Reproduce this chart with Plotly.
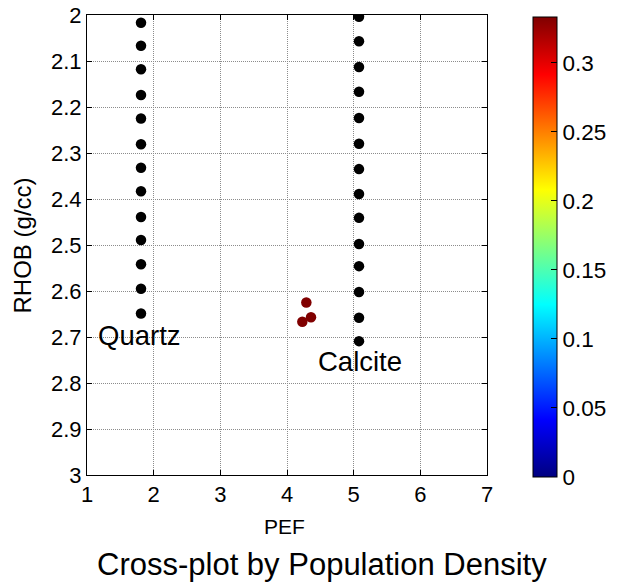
import plotly.graph_objects as go

# Data
quartz_pef = [1.81] * 13
quartz_rhob = [2.017, 2.067, 2.118, 2.174, 2.225, 2.281, 2.332, 2.383, 2.439, 2.489, 2.542, 2.595, 2.649]
calcite_pef = [5.08] * 14
calcite_rhob = [2.004, 2.057, 2.113, 2.167, 2.224, 2.280, 2.335, 2.389, 2.441, 2.498, 2.546, 2.602, 2.658, 2.709]
sample_pef = [4.29, 4.36, 4.23]
sample_rhob = [2.625, 2.657, 2.667]
sample_density = [1/3, 1/3, 1/3]

x_ticks = [1, 2, 3, 4, 5, 6, 7]
y_ticks = [2.0, 2.1, 2.2, 2.3, 2.4, 2.5, 2.6, 2.7, 2.8, 2.9, 3.0]
y_ticktext = ["2", "2.1", "2.2", "2.3", "2.4", "2.5", "2.6", "2.7", "2.8", "2.9", "3"]
cb_ticks = [0, 0.05, 0.1, 0.15, 0.2, 0.25, 0.3]
cb_ticktext = ["0", "0.05", "0.1", "0.15", "0.2", "0.25", "0.3"]

jet = [
    [0.0, "rgb(0,0,128)"],
    [0.125, "rgb(0,0,255)"],
    [0.375, "rgb(0,255,255)"],
    [0.625, "rgb(255,255,0)"],
    [0.875, "rgb(255,0,0)"],
    [1.0, "rgb(128,0,0)"],
]

FONT = "Arial, Liberation Sans, sans-serif"

fig = go.Figure()
fig.add_trace(go.Scatter(x=quartz_pef, y=quartz_rhob, mode="markers",
                         marker=dict(color="black", size=10.5), showlegend=False))
fig.add_trace(go.Scatter(x=calcite_pef, y=calcite_rhob, mode="markers",
                         marker=dict(color="black", size=10.5), showlegend=False))
fig.add_trace(go.Scatter(
    x=sample_pef, y=sample_rhob, mode="markers", showlegend=False,
    marker=dict(
        size=10.5, color=sample_density, colorscale=jet, cmin=0, cmax=1/3,
        showscale=True,
        colorbar=dict(
            x=1.115, xanchor="left", xpad=0, ypad=0,
            y=0.4957, yanchor="middle", len=460, lenmode="pixels",
            thickness=24, outlinewidth=1, outlinecolor="black",
            tickvals=cb_ticks, ticktext=cb_ticktext,
            ticks="inside", ticklen=6, tickcolor="black",
            tickfont=dict(size=22.5, color="black", family=FONT),
        ),
    ),
))

fig.add_annotation(x=1.13, y=2.696, text="Quartz", showarrow=False, xanchor="left",
                   yanchor="middle", font=dict(size=27.5, color="black", family=FONT))
fig.add_annotation(x=4.43, y=2.754, text="Calcite", showarrow=False, xanchor="left",
                   yanchor="middle", font=dict(size=27.5, color="black", family=FONT))
fig.add_annotation(x=0.4925, y=-0.113, xref="paper", yref="paper", text="PEF",
                   showarrow=False, xanchor="center", yanchor="middle",
                   font=dict(size=21, color="black", family=FONT))
fig.add_annotation(x=-0.1625, y=0.499, xref="paper", yref="paper", text="RHOB (g/cc)",
                   textangle=-90, showarrow=False, xanchor="center", yanchor="middle",
                   font=dict(size=24, color="black", family=FONT))
fig.add_annotation(x=0.5875, y=-0.1935, xref="paper", yref="paper", text="Cross-plot by Population Density",
                   showarrow=False, xanchor="center", yanchor="middle",
                   font=dict(size=31, color="black", family=FONT))

axis_common = dict(
    showline=True, linecolor="black", linewidth=1, mirror="ticks",
    ticks="inside", ticklen=5, tickcolor="black",
    showgrid=True, gridcolor="#8c8c8c", gridwidth=1, griddash="1px,1px",
    zeroline=False, tickfont=dict(size=22, color="black", family=FONT),
)

fig.update_layout(
    width=627, height=588,
    margin=dict(l=87, r=140, t=15, b=113, autoexpand=False),
    paper_bgcolor="white", plot_bgcolor="white",
    xaxis=dict(range=[1, 7], tickvals=x_ticks, **axis_common),
    yaxis=dict(range=[3, 2], tickvals=y_ticks, ticktext=y_ticktext, **axis_common),
)

fig.write_html("out.html", config={"displayModeBar": False},
               post_script="document.body.style.margin='0';document.body.style.overflow='hidden';")
